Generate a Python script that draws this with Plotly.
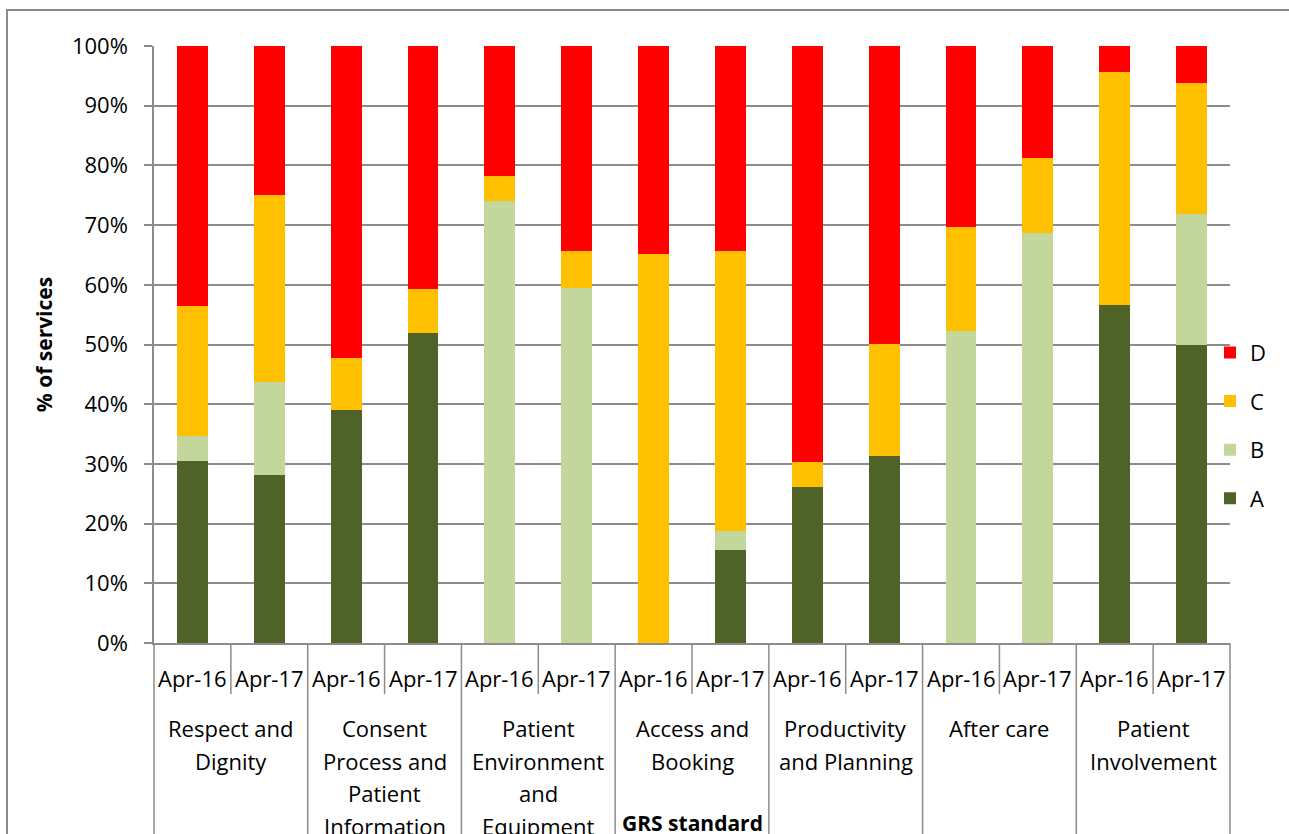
import plotly.graph_objects as go

# ---- data ----
groups = [
    ["Respect and", "Dignity"],
    ["Consent", "Process and", "Patient", "Information"],
    ["Patient", "Environment", "and", "Equipment"],
    ["Access and", "Booking"],
    ["Productivity", "and Planning"],
    ["After care"],
    ["Patient", "Involvement"],
]
periods = ["Apr-16", "Apr-17"]
A = [30.4, 28.1, 39.1, 51.9, 0, 0, 0, 15.6, 26.1, 31.3, 0, 0, 56.5, 50.0]
B = [4.3, 15.6, 0, 0, 73.9, 59.4, 0, 3.1, 0, 0, 52.2, 68.8, 0, 21.9]
C = [21.7, 31.3, 8.7, 7.4, 4.3, 6.2, 65.2, 46.9, 4.3, 18.8, 17.4, 12.5, 39.1, 21.9]
D = [43.5, 25.0, 52.2, 40.7, 21.7, 34.4, 34.8, 34.4, 69.6, 50.0, 30.4, 18.8, 4.3, 6.2]
series = [("A", A, "#4F6228"), ("B", B, "#C3D69B"), ("C", C, "#FFC000"), ("D", D, "#FF0000")]

n = len(groups) * len(periods)
xs = list(range(n))
period_labels = [p for g in groups for p in periods]

FONT = "Open Sans"
GREY = "#8c8c8c"
W, H = 1289, 834
ML, MR, MT, MB = 154, 59, 46, 191

fig = go.Figure()
for rank, (name, vals, col) in enumerate(series):
    fig.add_trace(go.Bar(
        x=xs, y=vals, name=name, legendgroup=name,
        legendrank=1000 - rank,
        marker=dict(color=col, line=dict(width=0)),
        width=0.4,
    ))

fig.update_layout(
    width=W, height=H,
    margin=dict(l=ML, r=MR, t=MT, b=MB, autoexpand=False),
    barmode="stack", barnorm="percent",
    paper_bgcolor="white", plot_bgcolor="white",
    font=dict(family=FONT, size=22, color="black"),
    showlegend=True,
    legend=dict(
        traceorder="grouped", tracegroupgap=17,
        x=(1210 - ML) / (W - ML - MR), xanchor="left",
        y=0.364, yanchor="middle",
        font=dict(family=FONT, size=22, color="black"),
        bgcolor="rgba(0,0,0,0)", itemwidth=30,
    ),
    xaxis=dict(
        range=[-0.5, n - 0.5], showticklabels=False, ticks="",
        showgrid=False, zeroline=False,
        showline=True, linecolor=GREY, linewidth=1.5,
        fixedrange=True,
    ),
    yaxis=dict(
        range=[0, 100], dtick=10, ticksuffix="%",
        ticks="outside", ticklen=8, tickcolor=GREY, tickwidth=1.5,
        ticklabelstandoff=12,
        showgrid=True, gridcolor=GREY, gridwidth=1.5,
        zeroline=False, showline=True, linecolor=GREY, linewidth=1.5,
        tickfont=dict(family=FONT, size=22),
        title=dict(text="<b>% of services</b>", font=dict(family=FONT, size=21), standoff=14),
        automargin=False,
    ),
)

annotations = []
shapes = []

# period labels
for i, lab in zip(xs, period_labels):
    annotations.append(dict(
        x=i, xref="x", y=0, yref="paper", yanchor="middle", yshift=-35,
        text=lab, showarrow=False, font=dict(family=FONT, size=22),
    ))

# group labels (one annotation per line)
LINE = 32.7
for gi, lines in enumerate(groups):
    cx = gi * len(periods) + (len(periods) - 1) / 2
    for li, line in enumerate(lines):
        annotations.append(dict(
            x=cx, xref="x", y=0, yref="paper", yanchor="middle",
            yshift=-(85 + li * LINE),
            text=line, showarrow=False, font=dict(family=FONT, size=22),
        ))

# x axis title
annotations.append(dict(
    x=0.5, xref="paper", y=0, yref="paper", yanchor="middle", yshift=-180,
    text="<b>GRS standard</b>", showarrow=False, font=dict(family=FONT, size=21),
))

# short dividers between periods, long dividers between groups
for gi in range(len(groups) + 1):
    xb = gi * len(periods) / n
    shapes.append(dict(
        type="line", xref="paper", yref="paper", x0=xb, x1=xb,
        ysizemode="pixel", yanchor=0, y0=0, y1=-300,
        line=dict(color=GREY, width=1.5),
    ))
for gi in range(len(groups)):
    for k in range(1, len(periods)):
        xb = (gi * len(periods) + k) / n
        shapes.append(dict(
            type="line", xref="paper", yref="paper", x0=xb, x1=xb,
            ysizemode="pixel", yanchor=0, y0=0, y1=-51,
            line=dict(color=GREY, width=1.5),
        ))

# chart-area border
shapes.append(dict(
    type="rect", xref="paper", yref="paper",
    xsizemode="pixel", xanchor=0, x0=7 - ML, x1=W + 50 - ML,
    ysizemode="pixel", yanchor=1, y0=MT - 10, y1=-900,
    line=dict(color=GREY, width=2), fillcolor="rgba(0,0,0,0)", layer="below",
))

fig.update_layout(annotations=annotations, shapes=shapes)
fig.write_html("out.html")
